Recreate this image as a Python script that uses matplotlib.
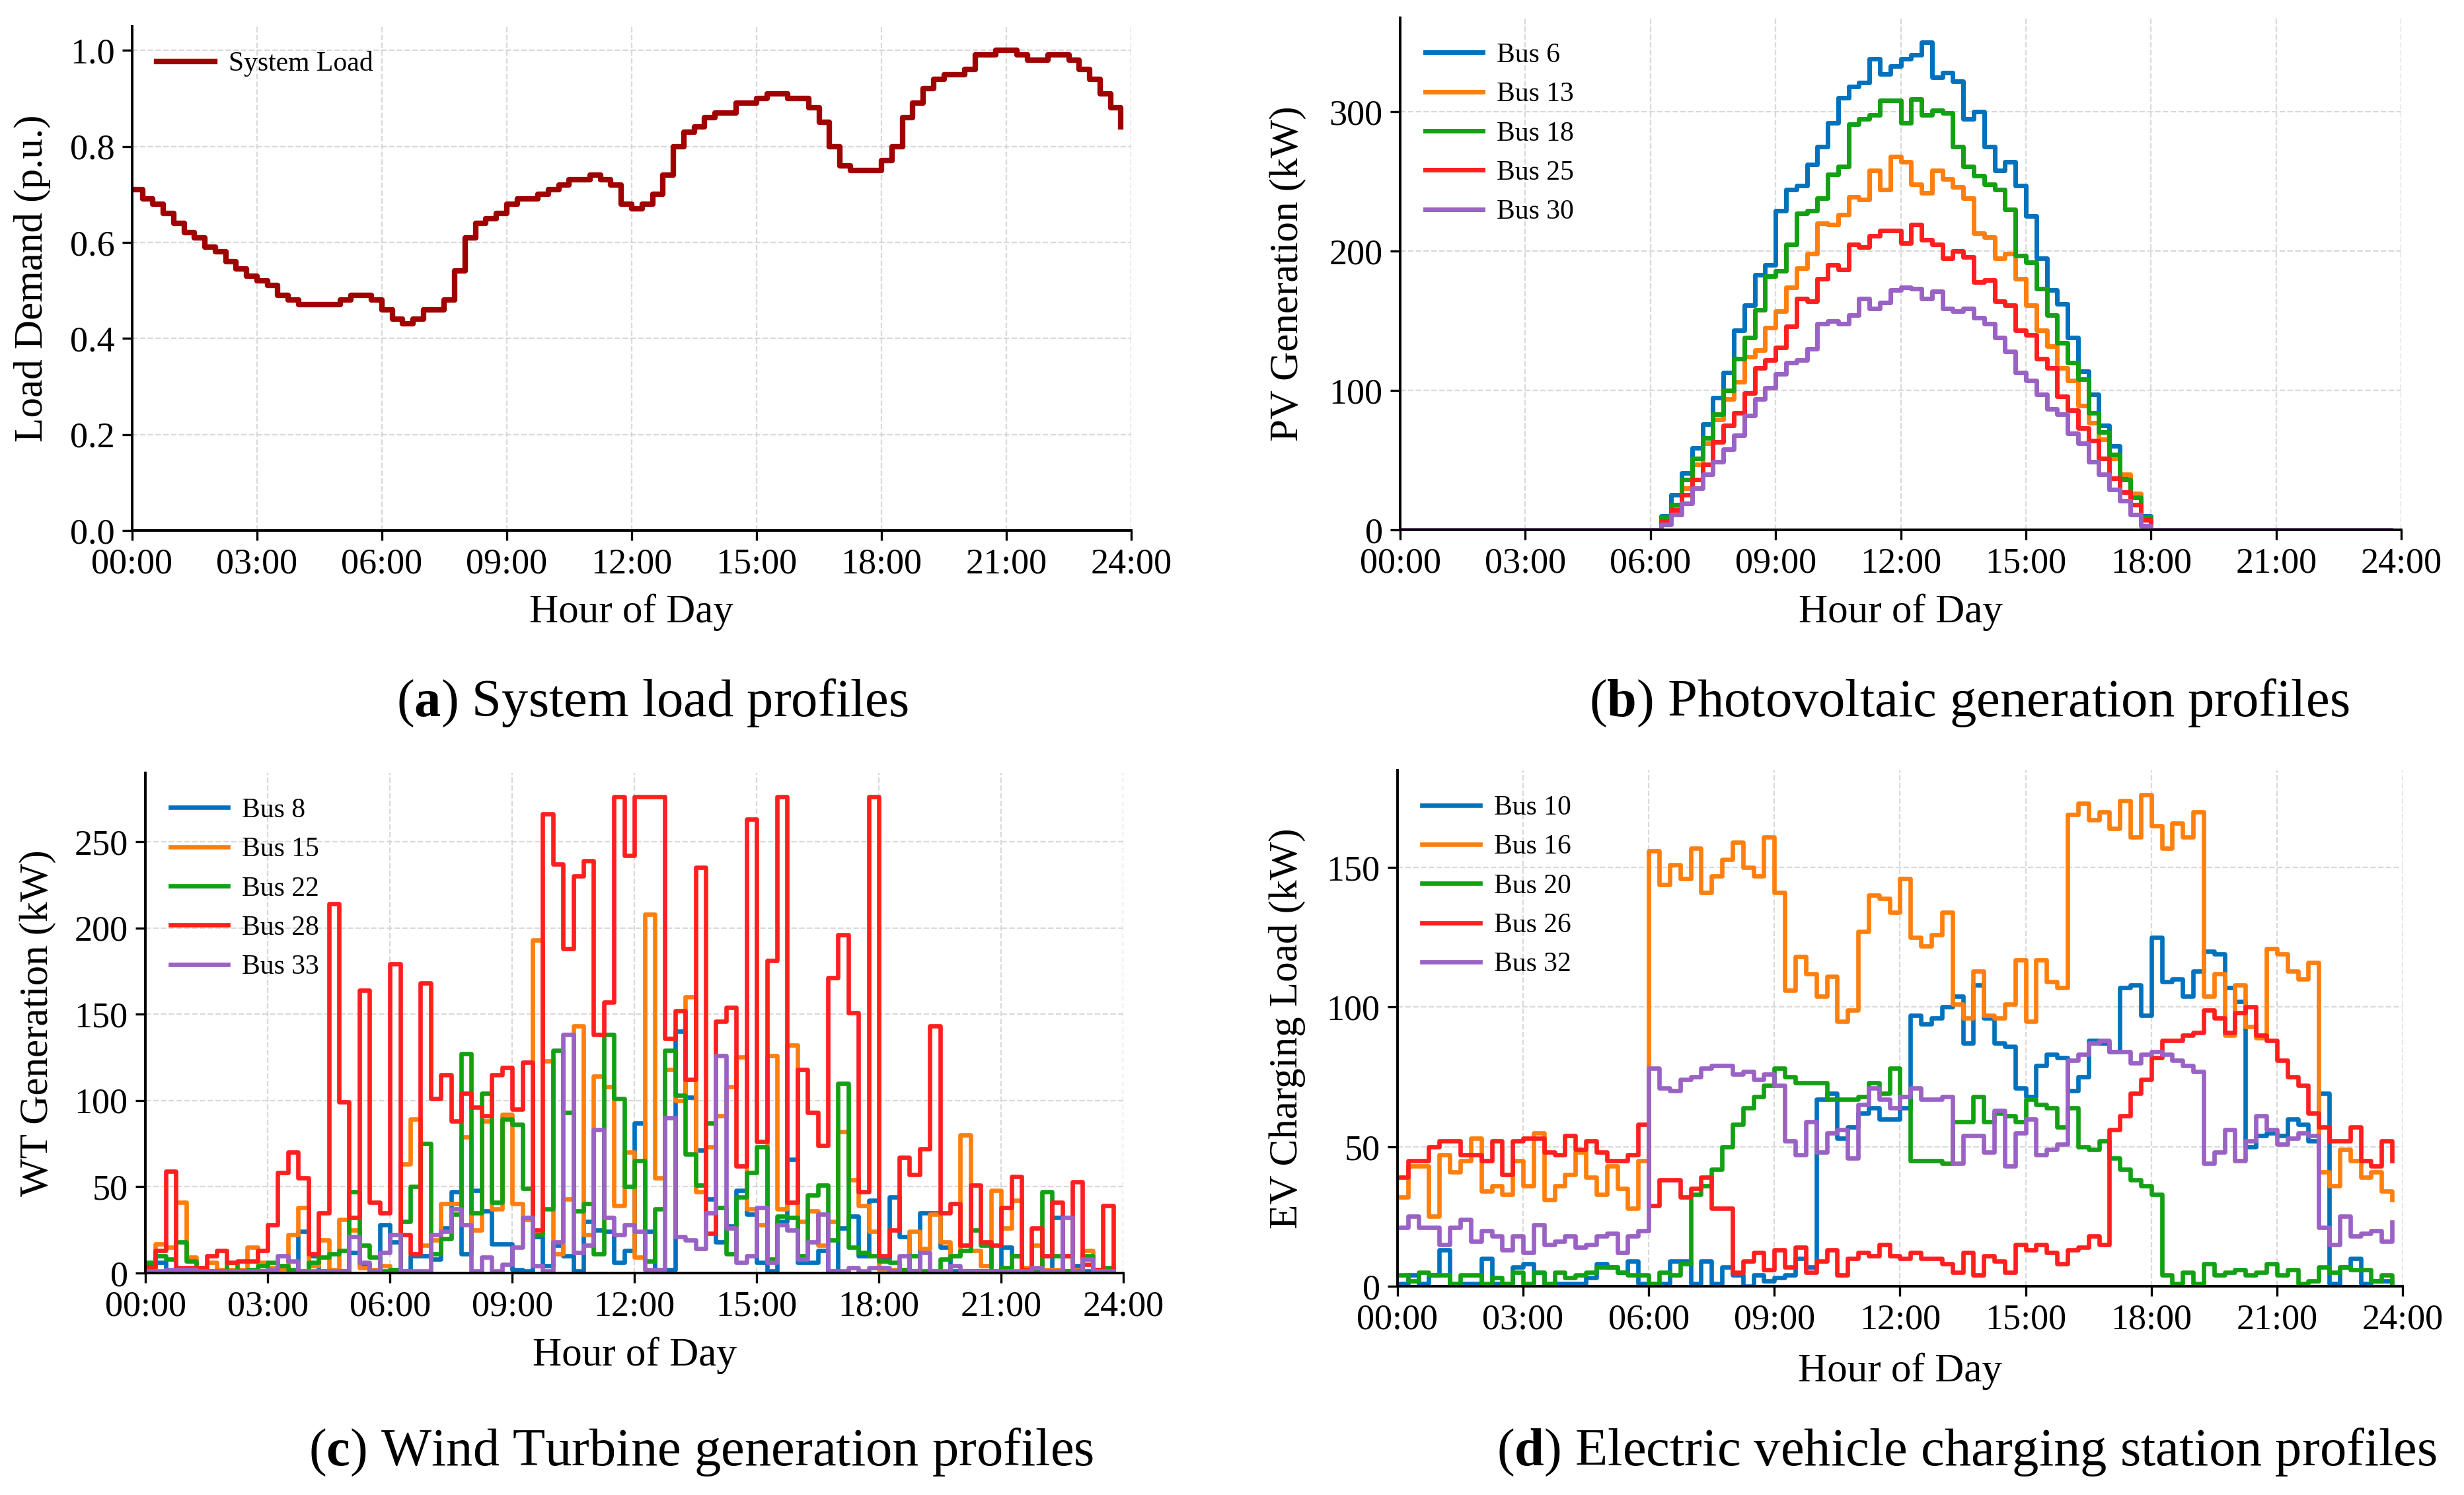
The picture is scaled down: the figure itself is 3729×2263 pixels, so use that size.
import numpy as np
import matplotlib
matplotlib.use("Agg")
import matplotlib.pyplot as plt

plt.rcParams['font.family'] = ['Liberation Serif', 'DejaVu Serif']
plt.rcParams['mathtext.fontset'] = 'custom'
plt.rcParams['mathtext.rm'] = 'Liberation Serif'
plt.rcParams['mathtext.bf'] = 'Liberation Serif:bold'

# 15-min resolution, 96 steps per day
hours = np.arange(96) * 0.25
tick_hours = [0, 3, 6, 9, 12, 15, 18, 21, 24]
tick_labels = ['00:00', '03:00', '06:00', '09:00', '12:00', '15:00', '18:00', '21:00', '24:00']

# (a) system load, p.u.
system_load = [
    0.71, 0.69, 0.68, 0.66, 0.64, 0.62, 0.61, 0.59, 0.58, 0.56, 0.545, 0.53,
    0.52, 0.51, 0.49, 0.48, 0.47, 0.47, 0.47, 0.47, 0.48, 0.49, 0.49, 0.48,
    0.46, 0.44, 0.43, 0.44, 0.46, 0.46, 0.48, 0.54, 0.61, 0.64, 0.65, 0.66,
    0.68, 0.69, 0.69, 0.70, 0.71, 0.72, 0.73, 0.73, 0.74, 0.73, 0.72, 0.68,
    0.67, 0.68, 0.70, 0.74, 0.80, 0.83, 0.84, 0.86, 0.87, 0.87, 0.89, 0.89,
    0.90, 0.91, 0.91, 0.90, 0.90, 0.88, 0.85, 0.80, 0.76, 0.75, 0.75, 0.75,
    0.77, 0.80, 0.86, 0.89, 0.92, 0.94, 0.95, 0.95, 0.96, 0.99, 0.99, 1.00,
    1.00, 0.99, 0.98, 0.98, 0.99, 0.99, 0.98, 0.96, 0.94, 0.91, 0.88, 0.84]

# (b) PV generation, kW (zero before 06:15 and after 18:00)
pv_night_am = [0] * 25
pv_night_pm = [0] * 24
pv_bus6 = pv_night_am + [
    10, 25, 41, 59, 76, 95, 113, 143, 161, 183, 190, 229, 244, 247, 262, 275,
    292, 310, 318, 321, 338, 327, 333, 338, 341, 350, 325, 328, 322, 295, 300, 275,
    258, 264, 247, 225, 195, 172, 162, 138, 114, 97, 75, 60, 39, 25, 10] + pv_night_pm
pv_bus13 = pv_night_am + [
    8, 16, 30, 47, 62, 79, 94, 106, 124, 129, 145, 157, 174, 188, 198, 220,
    219, 226, 239, 237, 258, 244, 268, 264, 248, 242, 258, 252, 246, 238, 213, 210,
    195, 198, 180, 161, 143, 132, 116, 107, 89, 77, 65, 51, 40, 26, 9] + pv_night_pm
pv_bus18 = pv_night_am + [
    9, 18, 36, 51, 66, 83, 100, 123, 138, 158, 182, 186, 205, 227, 229, 238,
    255, 261, 291, 295, 298, 308, 308, 292, 309, 298, 301, 299, 275, 261, 254, 248,
    244, 230, 197, 192, 173, 154, 134, 120, 108, 84, 70, 54, 36, 23, 9] + pv_night_pm
pv_bus25 = pv_night_am + [
    6, 14, 25, 36, 47, 63, 75, 84, 98, 116, 122, 131, 146, 166, 164, 180,
    190, 187, 205, 203, 211, 215, 215, 206, 219, 208, 205, 195, 200, 196, 178, 179,
    164, 161, 143, 140, 123, 116, 96, 86, 73, 64, 51, 37, 27, 18, 7] + pv_night_pm
pv_bus30 = pv_night_am + [
    4, 11, 19, 30, 40, 49, 58, 68, 82, 94, 102, 112, 120, 122, 130, 148,
    150, 148, 154, 166, 159, 163, 172, 174, 173, 166, 171, 159, 157, 159, 152, 148,
    138, 128, 113, 107, 97, 87, 83, 69, 62, 49, 40, 29, 21, 11, 3] + pv_night_pm

# (c) wind turbine generation, kW
wt_bus8 = [
    4, 6, 1, 1, 1, 1, 1, 1, 1, 1, 1, 1,
    1, 1, 1, 24, 10, 1, 1, 1, 12, 5, 1, 28,
    18, 1, 10, 10, 8, 26, 47, 11, 48, 36, 17, 17,
    2, 1, 21, 4, 16, 10, 1, 30, 25, 24, 6, 13,
    87, 24, 2, 2, 140, 102, 71, 43, 18, 27, 48, 34,
    6, 1, 30, 66, 6, 6, 13, 1, 26, 33, 10, 42,
    8, 44, 21, 1, 35, 35, 15, 1, 1, 1, 1, 1,
    15, 10, 1, 1, 1, 32, 1, 4, 1, 1, 1, 1]
wt_bus15 = [
    3, 17, 15, 41, 9, 2, 6, 2, 2, 2, 15, 6,
    3, 2, 22, 38, 4, 19, 2, 31, 25, 3, 2, 4,
    2, 63, 89, 16, 19, 40, 40, 79, 25, 88, 37, 92,
    40, 31, 193, 123, 11, 43, 143, 22, 114, 108, 39, 70,
    9, 208, 55, 118, 100, 160, 47, 73, 91, 108, 125, 37,
    28, 126, 37, 132, 30, 36, 16, 30, 82, 54, 39, 24,
    2, 2, 2, 24, 14, 34, 18, 10, 80, 13, 4, 48,
    26, 42, 3, 16, 2, 2, 10, 2, 13, 2, 2, 2]
wt_bus22 = [
    6, 10, 8, 18, 7, 3, 1, 1, 6, 1, 2, 4,
    6, 4, 2, 1, 6, 9, 11, 13, 47, 16, 9, 1,
    2, 30, 50, 75, 11, 20, 34, 127, 35, 104, 41, 89,
    86, 49, 22, 37, 129, 93, 36, 40, 11, 138, 101, 50,
    65, 7, 37, 129, 103, 69, 51, 87, 38, 11, 44, 58,
    73, 8, 33, 32, 10, 45, 51, 19, 110, 15, 12, 10,
    7, 6, 2, 10, 1, 1, 8, 10, 13, 25, 16, 1,
    3, 10, 1, 1, 47, 10, 1, 1, 10, 1, 3, 1]
wt_bus28 = [
    3, 13, 59, 3, 3, 3, 10, 13, 6, 7, 7, 13,
    28, 58, 70, 55, 11, 35, 214, 99, 32, 164, 41, 35,
    179, 22, 11, 168, 101, 115, 88, 104, 96, 91, 115, 119,
    95, 122, 25, 266, 237, 188, 230, 239, 138, 157, 276, 242,
    276, 276, 276, 136, 152, 112, 235, 23, 146, 154, 62, 263,
    76, 181, 276, 41, 118, 93, 74, 171, 196, 151, 47, 276,
    10, 25, 67, 57, 72, 143, 35, 40, 16, 51, 18, 16,
    38, 56, 2, 26, 10, 41, 10, 53, 5, 2, 39, 1]
wt_bus33 = [
    1, 1, 2, 2, 2, 1, 1, 1, 1, 1, 1, 1,
    2, 10, 7, 1, 1, 1, 1, 1, 21, 6, 1, 12,
    22, 1, 1, 1, 22, 24, 37, 28, 1, 9, 1, 5,
    15, 32, 4, 1, 18, 138, 12, 16, 83, 32, 22, 28,
    24, 2, 2, 90, 21, 19, 14, 35, 126, 26, 6, 10,
    38, 6, 28, 25, 8, 18, 34, 1, 1, 3, 1, 3,
    3, 1, 10, 1, 12, 1, 1, 4, 1, 1, 1, 1,
    1, 1, 1, 3, 1, 1, 32, 1, 8, 1, 1, 1]

# (d) EV charging load, kW
ev_bus10 = [
    1, 4, 1, 4, 13, 1, 1, 1, 10, 1, 1, 7,
    8, 5, 1, 1, 1, 1, 3, 8, 7, 5, 9, 1,
    1, 1, 9, 9, 1, 9, 1, 7, 4, 0, 4, 2,
    3, 4, 10, 7, 67, 69, 53, 57, 62, 64, 60, 60,
    64, 97, 94, 96, 100, 104, 87, 108, 96, 87, 86, 71,
    68, 79, 83, 82, 70, 75, 88, 87, 84, 107, 108, 97,
    125, 109, 110, 104, 113, 120, 119, 107, 102, 50, 54, 55,
    54, 60, 58, 52, 69, 1, 7, 10, 1, 2, 2, 1]
ev_bus16 = [
    32, 43, 43, 25, 47, 41, 45, 53, 34, 36, 33, 45,
    36, 55, 31, 36, 40, 48, 39, 33, 43, 35, 28, 45,
    156, 144, 151, 146, 157, 141, 147, 153, 159, 150, 147, 161,
    141, 106, 118, 112, 104, 111, 95, 99, 127, 140, 139, 134,
    146, 125, 122, 126, 134, 101, 96, 113, 97, 96, 101, 117,
    95, 117, 109, 107, 169, 173, 167, 170, 164, 174, 161, 176,
    165, 157, 166, 161, 170, 104, 112, 90, 108, 93, 89, 121,
    119, 113, 110, 116, 41, 36, 49, 45, 39, 41, 34, 31]
ev_bus20 = [
    4, 2, 5, 4, 4, 1, 4, 4, 1, 3, 1, 5,
    1, 5, 1, 5, 3, 4, 5, 7, 7, 5, 4, 4,
    1, 5, 4, 8, 33, 36, 42, 50, 58, 64, 68, 72,
    78, 75, 73, 73, 73, 67, 67, 67, 68, 73, 69, 78,
    68, 45, 45, 45, 44, 59, 59, 68, 59, 62, 61, 59,
    67, 65, 64, 57, 64, 50, 49, 52, 46, 42, 38, 36,
    33, 4, 1, 5, 1, 8, 4, 5, 6, 4, 5, 8,
    4, 6, 1, 2, 7, 5, 7, 6, 6, 2, 4, 1]
ev_bus26 = [
    39, 45, 45, 50, 52, 52, 47, 47, 45, 52, 40, 52,
    53, 53, 48, 47, 54, 49, 52, 48, 45, 45, 47, 58,
    29, 38, 38, 32, 35, 39, 28, 28, 5, 9, 12, 6,
    13, 7, 14, 5, 9, 13, 4, 10, 12, 11, 15, 11,
    10, 12, 10, 10, 8, 5, 12, 4, 11, 9, 5, 15,
    13, 15, 12, 8, 13, 14, 18, 15, 56, 61, 69, 74,
    82, 88, 88, 90, 91, 99, 96, 91, 98, 100, 90, 88,
    81, 75, 72, 62, 57, 52, 52, 57, 45, 43, 52, 45]
ev_bus32 = [
    21, 25, 21, 21, 15, 21, 24, 16, 20, 18, 13, 18,
    12, 22, 15, 16, 18, 14, 15, 18, 19, 12, 18, 20,
    78, 71, 70, 74, 75, 78, 79, 79, 76, 77, 74, 76,
    72, 52, 47, 59, 48, 55, 56, 46, 65, 71, 67, 64,
    68, 71, 67, 67, 68, 44, 54, 54, 48, 63, 43, 55,
    60, 47, 49, 51, 81, 83, 87, 88, 84, 84, 80, 83,
    84, 83, 81, 79, 77, 44, 48, 56, 45, 52, 61, 56,
    51, 53, 55, 54, 21, 15, 25, 18, 19, 20, 16, 23]

bus_colors = ['#0072BD', '#FF7F0E', '#14A014', '#FF1F1F', '#9A62C4']

pv_names = ['Bus 6', 'Bus 13', 'Bus 18', 'Bus 25', 'Bus 30']
wt_names = ['Bus 8', 'Bus 15', 'Bus 22', 'Bus 28', 'Bus 33']
ev_names = ['Bus 10', 'Bus 16', 'Bus 20', 'Bus 26', 'Bus 32']

fig = plt.figure(figsize=(18.65, 11.315), dpi=200)
ax_a = fig.add_axes([0.0536, 0.6452, 0.4054, 0.3372])
ax_b = fig.add_axes([0.5681, 0.6456, 0.4062, 0.3425])
ax_c = fig.add_axes([0.0590, 0.1485, 0.3968, 0.3345])
ax_d = fig.add_axes([0.5670, 0.1396, 0.4078, 0.3451])


def style_axes(ax, ylabel, ymax, yticks, ylabel_x, xlabel_y):
    ax.set_xlim(0, 24)
    ax.set_ylim(0, ymax)
    ax.set_xticks(tick_hours)
    ax.set_xticklabels(tick_labels)
    ax.set_yticks(yticks)
    ax.tick_params(labelsize=19.5, length=5.5, width=1.2, pad=4, direction='out')
    ax.spines['top'].set_visible(False)
    ax.spines['right'].set_visible(False)
    ax.spines['left'].set_linewidth(1.4)
    ax.spines['bottom'].set_linewidth(1.4)
    ax.grid(True, linestyle='--', color='#d0d0d0', linewidth=0.8, alpha=0.8)
    ax.set_axisbelow(True)
    ax.set_xlabel('Hour of Day', fontsize=22)
    ax.set_ylabel(ylabel, fontsize=22)
    ax.xaxis.set_label_coords(0.5, xlabel_y)
    ax.yaxis.set_label_coords(ylabel_x, 0.5)
    ax.legend(loc='upper left', frameon=False, fontsize=15,
              handlelength=2.1, handletextpad=0.5)


ax_a.step(hours, system_load, where='post', color='#A00000', lw=3.0, label='System Load')
style_axes(ax_a, 'Load Demand (p.u.)', max(system_load) * 1.05,
           [0.0, 0.2, 0.4, 0.6, 0.8, 1.0], -0.081, -0.125)
ax_a.set_yticklabels(['0.0', '0.2', '0.4', '0.6', '0.8', '1.0'])

for series, name, c in zip([pv_bus6, pv_bus13, pv_bus18, pv_bus25, pv_bus30], pv_names, bus_colors):
    ax_b.step(hours, series, where='post', color=c, lw=2.5, label=name)
style_axes(ax_b, 'PV Generation (kW)', max(pv_bus6) * 1.05,
           [0, 100, 200, 300], -0.094, -0.125)

wt_all = [wt_bus8, wt_bus15, wt_bus22, wt_bus28, wt_bus33]
for series, name, c in zip(wt_all, wt_names, bus_colors):
    ax_c.step(hours, series, where='post', color=c, lw=2.4, label=name)
style_axes(ax_c, 'WT Generation (kW)', max(max(s) for s in wt_all) * 1.05,
           [0, 50, 100, 150, 200, 250], -0.091, -0.128)

ev_all = [ev_bus10, ev_bus16, ev_bus20, ev_bus26, ev_bus32]
for series, name, c in zip(ev_all, ev_names, bus_colors):
    ax_d.step(hours, series, where='post', color=c, lw=2.4, label=name)
style_axes(ax_d, 'EV Charging Load (kW)', max(max(s) for s in ev_all) * 1.05,
           [0, 50, 100, 150], -0.091, -0.129)

# sub-figure captions
cap_size = 29
fig.text(0.2646, 0.530, r'($\mathbf{a}$) System load profiles', ha='center', va='center', fontsize=cap_size)
fig.text(0.7989, 0.530, r'($\mathbf{b}$) Photovoltaic generation profiles', ha='center', va='center', fontsize=cap_size)
fig.text(0.2845, 0.0287, r'($\mathbf{c}$) Wind Turbine generation profiles', ha='center', va='center', fontsize=cap_size)
fig.text(0.7981, 0.0287, r'($\mathbf{d}$) Electric vehicle charging station profiles', ha='center', va='center', fontsize=cap_size)

fig.savefig('out.png', dpi=200)
